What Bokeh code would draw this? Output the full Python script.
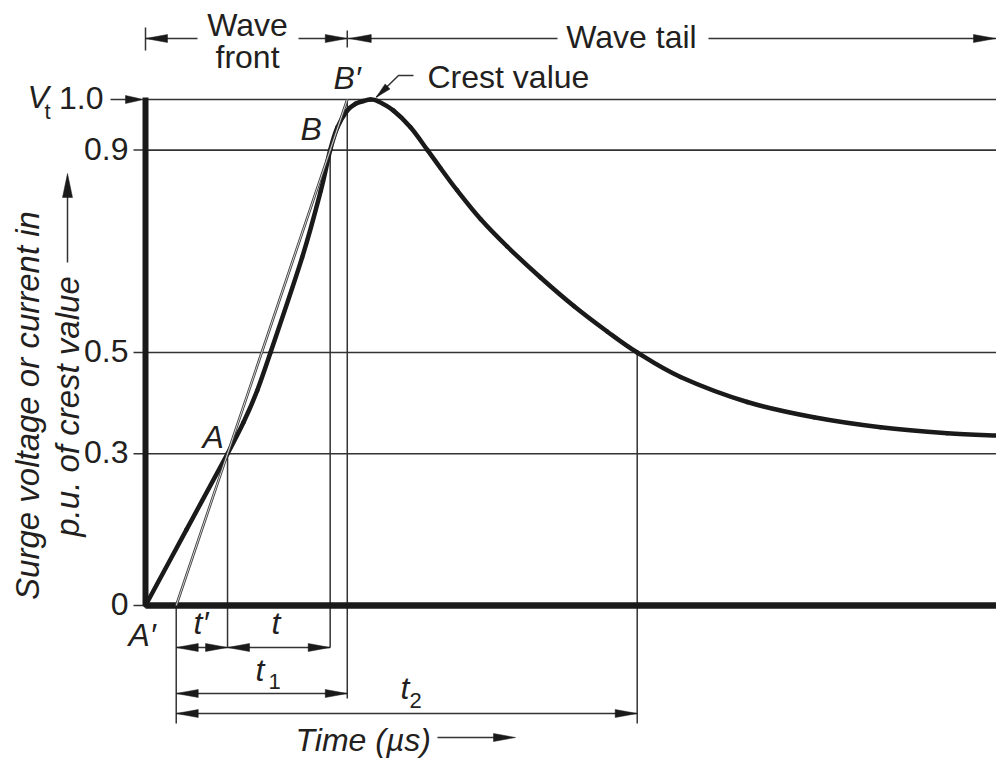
import math
from bokeh.plotting import figure
from bokeh.models import Range1d
from bokeh.core.properties import value
from bokeh.embed import file_html
from bokeh.resources import INLINE

# ---------------- data ----------------
# time in arbitrary schematic units (0 .. 100), surge in p.u. of crest value
time_us = [0.0, 4.82, 9.64, 11.52, 13.13, 14.69, 18.41, 20.60, 21.70, 22.55,
           23.70, 24.68, 25.62, 26.44, 27.26, 29.14, 31.14, 33.14, 34.66, 36.63,
           39.37, 42.50, 46.42, 50.33, 54.25, 57.78, 62.87, 70.71, 78.53, 86.37,
           94.21, 100.0]
surge_pu = [0.0, 0.150, 0.300, 0.362, 0.425, 0.500, 0.688, 0.820, 0.900, 0.945,
            0.978, 0.9915, 0.997, 1.000, 0.997, 0.978, 0.945, 0.900, 0.8646, 0.8202,
            0.7638, 0.7095, 0.6482, 0.5919, 0.5415, 0.500, 0.4516, 0.4022, 0.3721, 0.3524,
            0.3405, 0.336]

ref_levels = [0.0, 0.3, 0.5, 0.9, 1.0]
ref_labels = ["0", "0.3", "0.5", "0.9", "1.0"]

point_A = (9.64, 0.3)      # 30 % point on the front
point_B = (21.70, 0.9)     # 90 % point on the front
t_half = 57.78             # 50 % point on the tail
t_end = 100.0

# straight line through A and B -> virtual origin and B'
slope = (point_B[1] - point_A[1]) / (point_B[0] - point_A[0])
t_O1 = point_A[0] - point_A[1] / slope
t_Bp = point_B[0] + (1.0 - point_B[1]) / slope

# ---------------- canvas / scales ----------------
W, H = 996, 758
PX = 8.51      # pixels per time unit
PY = 506.0     # pixels per p.u.
X0 = 145.0     # pixel column of t = 0
Y0 = 605.0     # pixel row of 0 p.u.

def tx(px):    # layout helper: pixel column -> time units
    return (px - X0) / PX

def vy(py):    # layout helper: pixel row -> p.u.
    return (Y0 - py) / PY

p = figure(width=W, height=H, output_backend="svg", toolbar_location=None,
           x_range=Range1d(tx(0), tx(W)), y_range=Range1d(vy(H), vy(0)),
           x_axis_location=None, y_axis_location=None, min_border=0,
           outline_line_color=None, background_fill_color="white",
           border_fill_color="white")
p.grid.visible = False

FONT = "Liberation Sans"
TXT = "#231f20"
INK = "#1a1a1a"
THIN = "#333333"
FS = 32

heads_x, heads_y = [], []

def head(tt, tv, dx, dy, L=22, Wd=8):
    n = math.hypot(dx, dy)
    ux, uy = dx / n, dy / n
    bx, by = -L * ux, -L * uy
    nx, ny = -uy, ux
    heads_x.append([tt, tt + (bx + Wd / 2 * nx) / PX, tt + (bx - Wd / 2 * nx) / PX])
    heads_y.append([tv, tv + (by + Wd / 2 * ny) / PY, tv + (by - Wd / 2 * ny) / PY])

def txt(x, y, s, size=FS, style="normal", align="left", angle=0.0):
    p.text(x=[x], y=[y], text=[s], text_font=value(FONT),
           text_font_size=value(f"{size}px"), text_font_style=style,
           text_align=align, text_baseline="middle", angle=angle, text_color=TXT)

# ---------------- reference (grid) lines ----------------
lev = [v for v in ref_levels if v > 0]
p.multi_line(xs=[[0, t_end] for _ in lev], ys=[[v, v] for v in lev],
             line_color=THIN, line_width=1.6)

# ---------------- thin extension lines ----------------
row1 = vy(647)
row2 = vy(693)
row3 = vy(713)
ext_xs = [[t_O1, t_O1], [point_A[0], point_A[0]], [point_B[0], point_B[0]],
          [t_Bp, t_Bp], [t_half, t_half]]
ext_ys = [[0, vy(723)], [point_A[1], row1], [point_B[1], row1],
          [1.0, vy(698)], [0.5, vy(723)]]
p.multi_line(xs=ext_xs, ys=ext_ys, line_color=THIN, line_width=1.5)

# tick stubs on the y axis
stub = [v for v in ref_levels if v < 1.0]
p.multi_line(xs=[[tx(133), 0] for _ in stub], ys=[[v, v] for v in stub],
             line_color=THIN, line_width=1.5)
# arrow at the crest level (V_t)
p.line([tx(110), tx(130)], [1.0, 1.0], line_color=THIN, line_width=1.5)
head(tx(143), 1.0, 1, 0, L=18, Wd=8)

# ---------------- axes (heavy lines) ----------------
p.line([0, t_end], [0, 0], line_color=INK, line_width=6.5)
p.line([0, 0], [0, vy(97)], line_color=INK, line_width=6)

# ---------------- the surge wave (smooth curve through the read points) ----------------
sx = [X0 + t * PX for t in time_us]
sy = [Y0 - v * PY for v in surge_pu]
n = len(sx)
bz = dict(x0=[], y0=[], x1=[], y1=[], cx0=[], cy0=[], cx1=[], cy1=[])
for i in range(n - 1):
    i0, i2, i3 = max(i - 1, 0), i + 1, min(i + 2, n - 1)
    c0x = sx[i] + (sx[i2] - sx[i0]) / 6.0
    c0y = sy[i] + (sy[i2] - sy[i0]) / 6.0
    c1x = sx[i2] - (sx[i3] - sx[i]) / 6.0
    c1y = sy[i2] - (sy[i3] - sy[i]) / 6.0
    bz["x0"].append(time_us[i]); bz["y0"].append(surge_pu[i])
    bz["x1"].append(time_us[i2]); bz["y1"].append(surge_pu[i2])
    bz["cx0"].append(tx(c0x)); bz["cy0"].append(vy(c0y))
    bz["cx1"].append(tx(c1x)); bz["cy1"].append(vy(c1y))
p.bezier(**bz, line_color=INK, line_width=4.5, line_cap="round")

# ---------------- straight line through A and B ----------------
p.line([t_O1, t_Bp], [0, 1.0], line_color="#3a3a3a", line_width=2.6)
p.line([t_O1, t_Bp], [0, 1.0], line_color="white", line_width=0.8)

# ---------------- dimension arrows below the axis ----------------
dims = [(t_O1, point_A[0], row1), (point_A[0], point_B[0], row1),
        (t_O1, t_Bp, row2), (t_O1, t_half, row3)]
p.multi_line(xs=[[a, b] for a, b, _ in dims], ys=[[r, r] for _, _, r in dims],
             line_color=THIN, line_width=1.5)
for a, b, r in dims:
    head(a, r, -1, 0)
    head(b, r, 1, 0)

# ---------------- wave front / wave tail bar ----------------
top = vy(38)
p.multi_line(xs=[[0, 0], [t_Bp, t_Bp]], ys=[[vy(27), vy(50)], [vy(30), vy(47)]],
             line_color=THIN, line_width=1.5)
p.multi_line(xs=[[0, tx(197)], [tx(298), t_Bp], [t_Bp, tx(557)], [tx(708), t_end]],
             ys=[[top, top]] * 4, line_color=THIN, line_width=1.5)
head(0, top, -1, 0)
head(t_Bp, top, 1, 0)
head(t_Bp + tx(350) - tx(348), top, -1, 0)
head(tx(995), top, 1, 0)
txt(tx(247), vy(24), "Wave", align="center")
txt(tx(247), vy(56), "front", align="center")
txt(tx(631), vy(36), "Wave tail", align="center")

# ---------------- crest value leader ----------------
p.line([tx(413), tx(398), tx(376)], [vy(75), vy(75), vy(96.5)],
       line_color=THIN, line_width=1.5)
head(tx(375.5), vy(97), -22.5, -21.5, L=16, Wd=7)
txt(tx(427), vy(76), "Crest value")

# ---------------- point labels ----------------
txt(tx(333), vy(77), "B\u2032", style="italic")
txt(tx(300), vy(128), "B", style="italic")
txt(tx(202), vy(436), "A", style="italic")
txt(tx(128), vy(634), "A\u2032", style="italic")
txt(tx(193), vy(622), "t\u2032", style="italic")
txt(tx(271), vy(622), "t", style="italic")
txt(tx(255), vy(669), "t", style="italic")
txt(tx(268), vy(681), "1", size=22)
txt(tx(400), vy(687), "t", style="italic")
txt(tx(409), vy(700), "2", size=22)

# ---------------- tick labels ----------------
for v, lab in zip(ref_levels, ref_labels):
    right = tx(103) if v == 1.0 else tx(128)
    txt(right, v + 1.5 / PY, lab, align="right")
txt(tx(27), vy(96), "V", style="italic")
txt(tx(44), vy(111), "t", size=22)

# ---------------- axis titles ----------------
txt(tx(27), vy(405), "Surge voltage or current in", size=33, style="italic",
    align="center", angle=math.pi / 2)
txt(tx(67), vy(406), "p.u. of crest value", size=33, style="italic",
    align="center", angle=math.pi / 2)
p.line([tx(67), tx(67)], [vy(262), vy(190)], line_color=THIN, line_width=1.5)
head(tx(67), vy(173), 0, 1, L=24, Wd=10)

txt(tx(295), vy(739), "Time (\u00b5s)", style="italic")
p.line([tx(437), tx(500)], [vy(737), vy(737)], line_color=THIN, line_width=1.5)
head(tx(515), vy(737), 1, 0)

# all arrow heads
p.patches(xs=heads_x, ys=heads_y, fill_color=INK, line_color=INK, line_width=0.5)

open("out.html", "w").write(file_html(p, INLINE))
